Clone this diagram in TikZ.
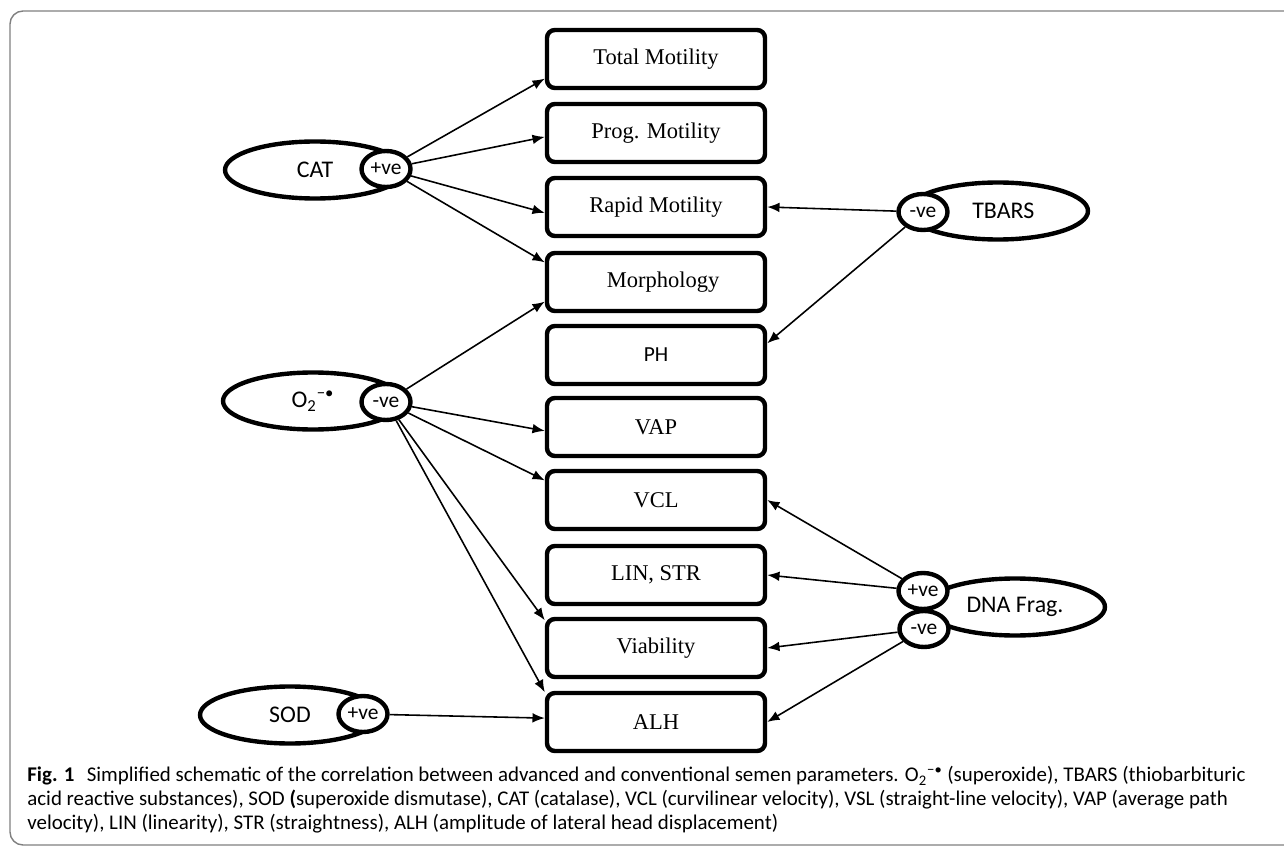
\documentclass[tikz,border=0pt]{standalone}
\usepackage{fontspec}
\setmainfont{Liberation Serif}
\newfontfamily\sansf{Carlito}
\usetikzlibrary{arrows.meta,shapes.geometric}

\begin{document}
\begin{tikzpicture}[
  x=0.2mm, y=-0.2mm,
  >={Latex[length=7pt,width=5.5pt]},
  param/.style={draw, fill=white, line width=2.5pt, rounded corners=4.5pt, inner sep=0pt,
    minimum width=43.6mm, minimum height=11.6mm, font=\fontsize{12.8}{15}\selectfont},
  agent/.style={ellipse, draw, fill=white, line width=2.5pt, inner sep=0pt,
    minimum width=36mm, minimum height=11.4mm, font=\sansf\fontsize{13.6}{16}\selectfont},
  sign/.style={ellipse, draw, fill=white, line width=2.5pt, inner sep=0pt,
    minimum width=9.8mm, minimum height=7.2mm, font=\sansf\fontsize{12.2}{14}\selectfont},
  arr/.style={->, line width=0.9pt},
  capline/.style={anchor=west, inner sep=0pt, font=\sansf\fontsize{11.9}{14}\selectfont},
]
% Pixel grid: x to the right, y downwards; column of parameters at \xbox.
\def\xbox{656}
\def\xsign{386}

\useasboundingbox (0,0) rectangle (1284,847);
\draw[black!50, line width=0.8pt, rounded corners=2.6mm] (10,11) rectangle (1330,845);

% --- Semen parameters (column) ------------------------------------------------
\node[param] (tm)  at (\xbox, 59)  {Total Motility};
\node[param] (pm)  at (\xbox, 133) {Prog. Motility};
\node[param] (rm)  at (\xbox, 207) {Rapid Motility};
\node[param] (mo)  at (\xbox, 282) {\hspace{8pt}Morphology};
\node[param, font=\sansf\fontsize{12.2}{14}\selectfont] (ph) at (\xbox, 355) {PH};
\node[param] (vap) at (\xbox, 427) {VAP};
\node[param] (vcl) at (\xbox, 500) {VCL};
\node[param] (lin) at (\xbox, 575) {LIN, STR};
\node[param] (via) at (\xbox, 648) {Viability};
\node[param] (alh) at (\xbox, 722) {ALH};

% --- Left side: CAT, superoxide, SOD --------------------------------------------
\node[agent] (cat) at (315, 170) {CAT};
\node[sign] (catv) at (\xsign, 169) {+ve};
\node[agent] (oxy) at (313, 401) {O\textsubscript{2}\textsuperscript{−•}};
\node[sign] (oxyv) at (\xsign, 402) {-ve};
\node[agent] (sod) at (290, 715) {SOD};
\node[sign] (sodv) at (363, 714) {+ve};

\draw[arr] (catv) -- (tm.190);
\draw[arr] (catv) -- (pm.182);
\draw[arr] (catv) -- (rm.183);
\draw[arr] (catv) -- (mo.170);

\draw[arr] (oxyv) -- (mo.190);
\draw[arr] (oxyv) -- (vap.182);
\draw[arr] (oxyv) -- (vcl.170);
\draw[arr] (oxyv) -- (via.166);
\draw[arr] (oxyv) -- (alh.165);

\draw[arr] (sodv) -- (alh.178);

% --- Right side: TBARS, DNA fragmentation ----------------------------------------
\node[agent] (tbars) at (998, 211) {\hspace{6pt}TBARS};
\node[sign] (tbv) at (923, 212) {-ve};
\node[agent] (dna) at (1015, 607) {DNA Frag.};
\node[sign] (dnap) at (923, 591) {+ve};
\node[sign] (dnan) at (924, 629) {-ve};

\draw[arr] (tbv) -- (rm.east);
\draw[arr] (tbv) -- (ph.6);
\draw[arr] (dnap) -- (vcl.east);
\draw[arr] (dnap) -- (lin.east);
\draw[arr] (dnan) -- (via.east);
\draw[arr] (dnan) -- (alh.east);

% --- Caption ---------------------------------------------------------------------
\node[capline] (cap1) at (27, 776) {\textbf{Fig. 1}\hspace{7pt}Simplified schematic of the correlation between advanced and conventional semen parameters. O\textsubscript{2}\textsuperscript{−•} (superoxide), TBARS (thiobarbituric};
\node[capline] (cap2) at (27, 800) {acid reactive substances), SOD \textbf{(}superoxide dismutase), CAT (catalase), VCL (curvilinear velocity), VSL (straight-line velocity), VAP (average path};
\node[capline] (cap3) at (27, 824) {velocity), LIN (linearity), STR (straightness), ALH (amplitude of lateral head displacement)};

\end{tikzpicture}
\end{document}
